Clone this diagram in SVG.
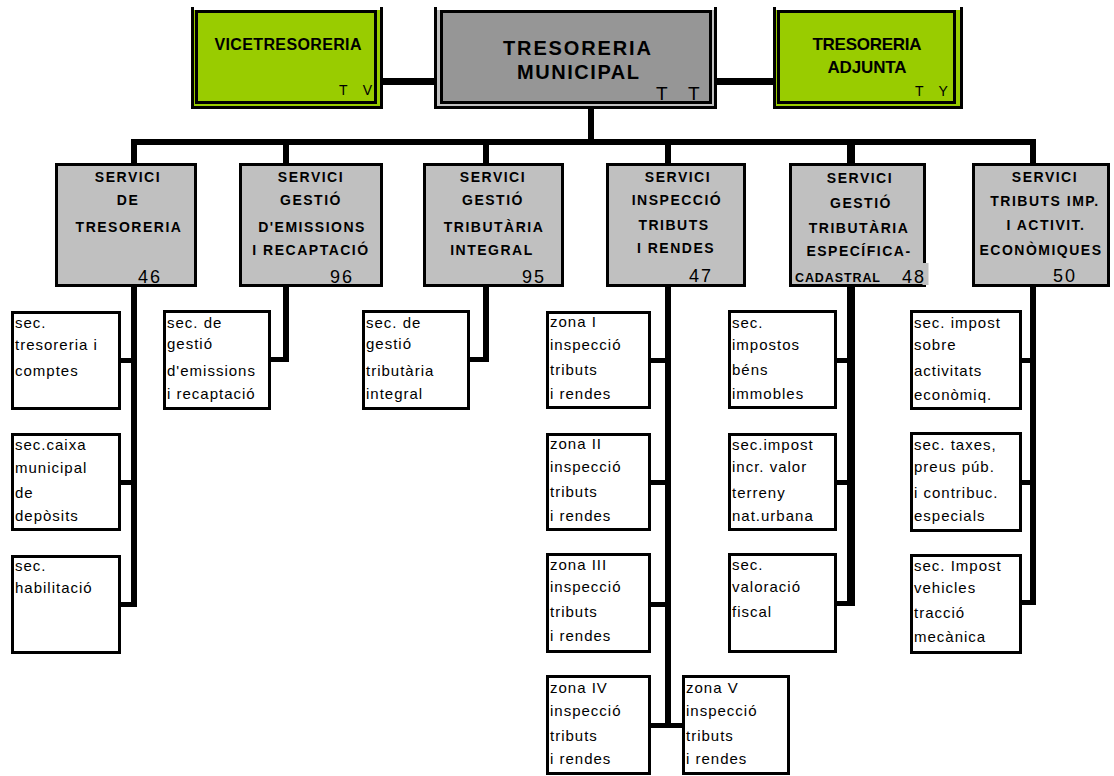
<svg xmlns="http://www.w3.org/2000/svg" width="1114" height="776" viewBox="0 0 1114 776">
<style>
.t{font-family:"Liberation Sans",Arial,Helvetica,sans-serif;fill:#000}
.hb{font-weight:bold;font-size:14px;letter-spacing:1.5px;text-anchor:middle}
.num{font-size:18px;letter-spacing:2px}
.st{font-size:15px;letter-spacing:1px}
.code{font-size:14px}
.sb{fill:#c0c0c0;stroke:#000;stroke-width:3}
.sub{fill:#fff;stroke:#000;stroke-width:3}
.grn{fill:#99cc00}
.inG{fill:#99cc00;stroke:#000;stroke-width:3}
.inC{fill:#969696;stroke:#000;stroke-width:3}
.k{fill:#000}
</style>
<rect width="1114" height="776" fill="#fff"/>

<g id="connectors" class="k">
  <rect x="381" y="78" width="54" height="7"/>
  <rect x="715" y="78" width="59" height="7"/>
  <rect x="588" y="104" width="6" height="41"/>
  <rect x="132" y="139" width="904" height="6"/>
  <!-- col1 -->
  <rect x="131" y="139" width="6" height="468"/>
  <rect x="119" y="358" width="18" height="5"/>
  <rect x="119" y="480" width="18" height="5"/>
  <rect x="119" y="602" width="18" height="5"/>
  <!-- col2 -->
  <rect x="283" y="139" width="6" height="223"/>
  <rect x="269" y="357" width="20" height="5"/>
  <!-- col3 -->
  <rect x="483" y="139" width="6" height="223"/>
  <rect x="468" y="357" width="21" height="5"/>
  <!-- col4 -->
  <rect x="665" y="139" width="6" height="589"/>
  <rect x="649" y="358" width="22" height="5"/>
  <rect x="649" y="480" width="22" height="5"/>
  <rect x="649" y="602" width="22" height="5"/>
  <rect x="649" y="723" width="35" height="5"/>
  <!-- col5 -->
  <rect x="847" y="139" width="8" height="467"/>
  <rect x="835" y="358" width="20" height="5"/>
  <rect x="835" y="480" width="20" height="5"/>
  <rect x="835" y="601" width="20" height="5"/>
  <!-- col6 -->
  <rect x="1030" y="139" width="6" height="466"/>
  <rect x="1020" y="358" width="16" height="5"/>
  <rect x="1020" y="480" width="16" height="5"/>
  <rect x="1020" y="600" width="16" height="5"/>
</g>

<g id="vicetresoreria">
  <rect class="grn" x="192" y="10" width="190" height="98"/>
  <rect class="k" x="191" y="7" width="3" height="102"/>
  <rect class="k" x="380" y="7" width="3" height="102"/>
  <rect class="k" x="191" y="106" width="192" height="3"/>
  <rect class="inG" x="196.5" y="11.5" width="179" height="91"/>
  <text class="t" x="288" y="50" font-size="16" font-weight="bold" text-anchor="middle" textLength="147" lengthAdjust="spacing">VICETRESORERIA</text>
  <text class="t code" x="339" y="95" xml:space="preserve">T    V</text>
</g>

<g id="tresoreria-municipal">
  <rect fill="#c0c0c0" x="435" y="10" width="281" height="98"/>
  <rect class="k" x="434" y="7" width="3" height="102"/>
  <rect class="k" x="714" y="7" width="3" height="102"/>
  <rect class="k" x="434" y="106" width="283" height="3"/>
  <rect class="inC" x="441.5" y="11.5" width="269" height="91"/>
  <text class="t" x="577" y="55" font-size="20" font-weight="bold" text-anchor="middle" textLength="148" lengthAdjust="spacing">TRESORERIA</text>
  <text class="t" x="578" y="79" font-size="20" font-weight="bold" text-anchor="middle" textLength="122" lengthAdjust="spacing">MUNICIPAL</text>
  <text class="t" x="656" y="100" font-size="19" xml:space="preserve">T    T</text>
</g>

<g id="tresoreria-adjunta">
  <rect class="grn" x="774" y="10" width="188" height="98"/>
  <rect class="k" x="773" y="7" width="3" height="102"/>
  <rect class="k" x="960" y="7" width="3" height="102"/>
  <rect class="k" x="773" y="106" width="190" height="3"/>
  <rect class="inG" x="778.5" y="11.5" width="176" height="91"/>
  <text class="t" x="867" y="50" font-size="17" font-weight="bold" text-anchor="middle" textLength="109" lengthAdjust="spacing">TRESORERIA</text>
  <text class="t" x="867" y="73" font-size="17" font-weight="bold" text-anchor="middle" textLength="79" lengthAdjust="spacing">ADJUNTA</text>
  <text class="t code" x="915" y="96" xml:space="preserve">T    Y</text>
</g>

<g id="servei-tresoreria">
  <rect class="sb" x="56.5" y="164.5" width="139" height="121"/>
  <text class="t hb" x="128" y="182">SERVICI</text>
  <text class="t hb" x="128" y="205">DE</text>
  <text class="t hb" x="129" y="232">TRESORERIA</text>
  <text class="t num" x="138" y="283">46</text>
</g>

<g id="servei-emissions">
  <rect class="sb" x="240.5" y="164.5" width="141" height="121"/>
  <text class="t hb" x="311" y="182">SERVICI</text>
  <text class="t hb" x="311" y="205">GESTIÓ</text>
  <text class="t hb" x="312" y="232">D'EMISSIONS</text>
  <text class="t hb" x="311" y="255">I RECAPTACIÓ</text>
  <text class="t num" x="330" y="283">96</text>
</g>

<g id="servei-integral">
  <rect class="sb" x="424.5" y="164.5" width="138" height="121"/>
  <text class="t hb" x="493" y="182">SERVICI</text>
  <text class="t hb" x="493" y="205">GESTIÓ</text>
  <text class="t hb" x="494" y="232">TRIBUTÀRIA</text>
  <text class="t hb" x="492" y="255">INTEGRAL</text>
  <text class="t num" x="522" y="283">95</text>
</g>

<g id="servei-inspeccio">
  <rect class="sb" x="607.5" y="164.5" width="137" height="121"/>
  <text class="t hb" x="678" y="182">SERVICI</text>
  <text class="t hb" x="677" y="205">INSPECCIÓ</text>
  <text class="t hb" x="674" y="230">TRIBUTS</text>
  <text class="t hb" x="676" y="253">I RENDES</text>
  <text class="t num" x="689" y="282">47</text>
</g>

<g id="servei-cadastral">
  <rect class="sb" x="790.5" y="164.5" width="134" height="121"/>
  <rect fill="#c0c0c0" x="922.5" y="263" width="6" height="22"/>
  <text class="t hb" x="860" y="183">SERVICI</text>
  <text class="t hb" x="861" y="208">GESTIÓ</text>
  <text class="t hb" x="859" y="233">TRIBUTÀRIA</text>
  <text class="t hb" x="859" y="256">ESPECÍFICA-</text>
  <text class="t" x="795" y="282" font-size="12.5" font-weight="bold" textLength="85" lengthAdjust="spacing">CADASTRAL</text>
  <text class="t num" x="902" y="283">48</text>
</g>

<g id="servei-tributs">
  <rect class="sb" x="973.5" y="164.5" width="135" height="121"/>
  <text class="t hb" x="1045" y="182">SERVICI</text>
  <text class="t hb" x="1045" y="206">TRIBUTS IMP.</text>
  <text class="t hb" x="1046" y="230">I ACTIVIT.</text>
  <text class="t hb" x="1041" y="255">ECONÒMIQUES</text>
  <text class="t num" x="1053" y="282">50</text>
</g>

<g id="sec-tresoreria-comptes">
  <rect class="sub" x="12.5" y="312.5" width="107" height="96"/>
  <text class="t st" x="15" y="328">sec.</text>
  <text class="t st" x="15" y="350">tresoreria i</text>
  <text class="t st" x="15" y="376">comptes</text>
</g>
<g id="sec-caixa">
  <rect class="sub" x="12.5" y="434.5" width="107" height="95"/>
  <text class="t st" x="15" y="450">sec.caixa</text>
  <text class="t st" x="15" y="473">municipal</text>
  <text class="t st" x="15" y="498">de</text>
  <text class="t st" x="15" y="521">depòsits</text>
</g>
<g id="sec-habilitacio">
  <rect class="sub" x="12.5" y="556.5" width="107" height="96"/>
  <text class="t st" x="15" y="571">sec.</text>
  <text class="t st" x="15" y="593">habilitació</text>
</g>

<g id="sec-emissions">
  <rect class="sub" x="164.5" y="311.5" width="105" height="97"/>
  <text class="t st" x="167" y="328">sec. de</text>
  <text class="t st" x="167" y="349">gestió</text>
  <text class="t st" x="167" y="376">d'emissions</text>
  <text class="t st" x="167" y="399">i recaptació</text>
</g>

<g id="sec-integral">
  <rect class="sub" x="363.5" y="311.5" width="105" height="97"/>
  <text class="t st" x="366" y="328">sec. de</text>
  <text class="t st" x="366" y="349">gestió</text>
  <text class="t st" x="366" y="376">tributària</text>
  <text class="t st" x="366" y="399">integral</text>
</g>

<g id="zona-1">
  <rect class="sub" x="547.5" y="312.5" width="102" height="95"/>
  <text class="t st" x="550" y="327">zona I</text>
  <text class="t st" x="550" y="350">inspecció</text>
  <text class="t st" x="550" y="375">tributs</text>
  <text class="t st" x="550" y="399">i rendes</text>
</g>
<g id="zona-2">
  <rect class="sub" x="547.5" y="434.5" width="102" height="95"/>
  <text class="t st" x="550" y="449">zona II</text>
  <text class="t st" x="550" y="472">inspecció</text>
  <text class="t st" x="550" y="497">tributs</text>
  <text class="t st" x="550" y="521">i rendes</text>
</g>
<g id="zona-3">
  <rect class="sub" x="547.5" y="554.5" width="102" height="97"/>
  <text class="t st" x="550" y="570">zona III</text>
  <text class="t st" x="550" y="592">inspecció</text>
  <text class="t st" x="550" y="617">tributs</text>
  <text class="t st" x="550" y="641">i rendes</text>
</g>
<g id="zona-4">
  <rect class="sub" x="547.5" y="676.5" width="102" height="97"/>
  <text class="t st" x="550" y="693">zona IV</text>
  <text class="t st" x="550" y="716">inspecció</text>
  <text class="t st" x="550" y="741">tributs</text>
  <text class="t st" x="550" y="764">i rendes</text>
</g>
<g id="zona-5">
  <rect class="sub" x="683.5" y="676.5" width="105" height="97"/>
  <text class="t st" x="686" y="693">zona V</text>
  <text class="t st" x="686" y="716">inspecció</text>
  <text class="t st" x="686" y="741">tributs</text>
  <text class="t st" x="686" y="764">i rendes</text>
</g>

<g id="sec-ibi">
  <rect class="sub" x="729.5" y="311.5" width="106" height="96"/>
  <text class="t st" x="732" y="328">sec.</text>
  <text class="t st" x="732" y="350">impostos</text>
  <text class="t st" x="732" y="375">béns</text>
  <text class="t st" x="732" y="399">immobles</text>
</g>
<g id="sec-plusvalua">
  <rect class="sub" x="729.5" y="434.5" width="106" height="95"/>
  <text class="t st" x="732" y="450">sec.impost</text>
  <text class="t st" x="732" y="472">incr. valor</text>
  <text class="t st" x="732" y="498">terreny</text>
  <text class="t st" x="732" y="521">nat.urbana</text>
</g>
<g id="sec-valoracio">
  <rect class="sub" x="729.5" y="554.5" width="106" height="97"/>
  <text class="t st" x="732" y="570">sec.</text>
  <text class="t st" x="732" y="592">valoració</text>
  <text class="t st" x="732" y="617">fiscal</text>
</g>

<g id="sec-iae">
  <rect class="sub" x="911.5" y="311.5" width="109" height="97"/>
  <text class="t st" x="914" y="328">sec. impost</text>
  <text class="t st" x="914" y="350">sobre</text>
  <text class="t st" x="914" y="376">activitats</text>
  <text class="t st" x="914" y="400">econòmiq.</text>
</g>
<g id="sec-taxes">
  <rect class="sub" x="911.5" y="433.5" width="109" height="97"/>
  <text class="t st" x="914" y="450">sec. taxes,</text>
  <text class="t st" x="914" y="472">preus púb.</text>
  <text class="t st" x="914" y="498">i contribuc.</text>
  <text class="t st" x="914" y="521">especials</text>
</g>
<g id="sec-vehicles">
  <rect class="sub" x="911.5" y="555.5" width="109" height="97"/>
  <text class="t st" x="914" y="571">sec. Impost</text>
  <text class="t st" x="914" y="593">vehicles</text>
  <text class="t st" x="914" y="618">tracció</text>
  <text class="t st" x="914" y="642">mecànica</text>
</g>
</svg>
